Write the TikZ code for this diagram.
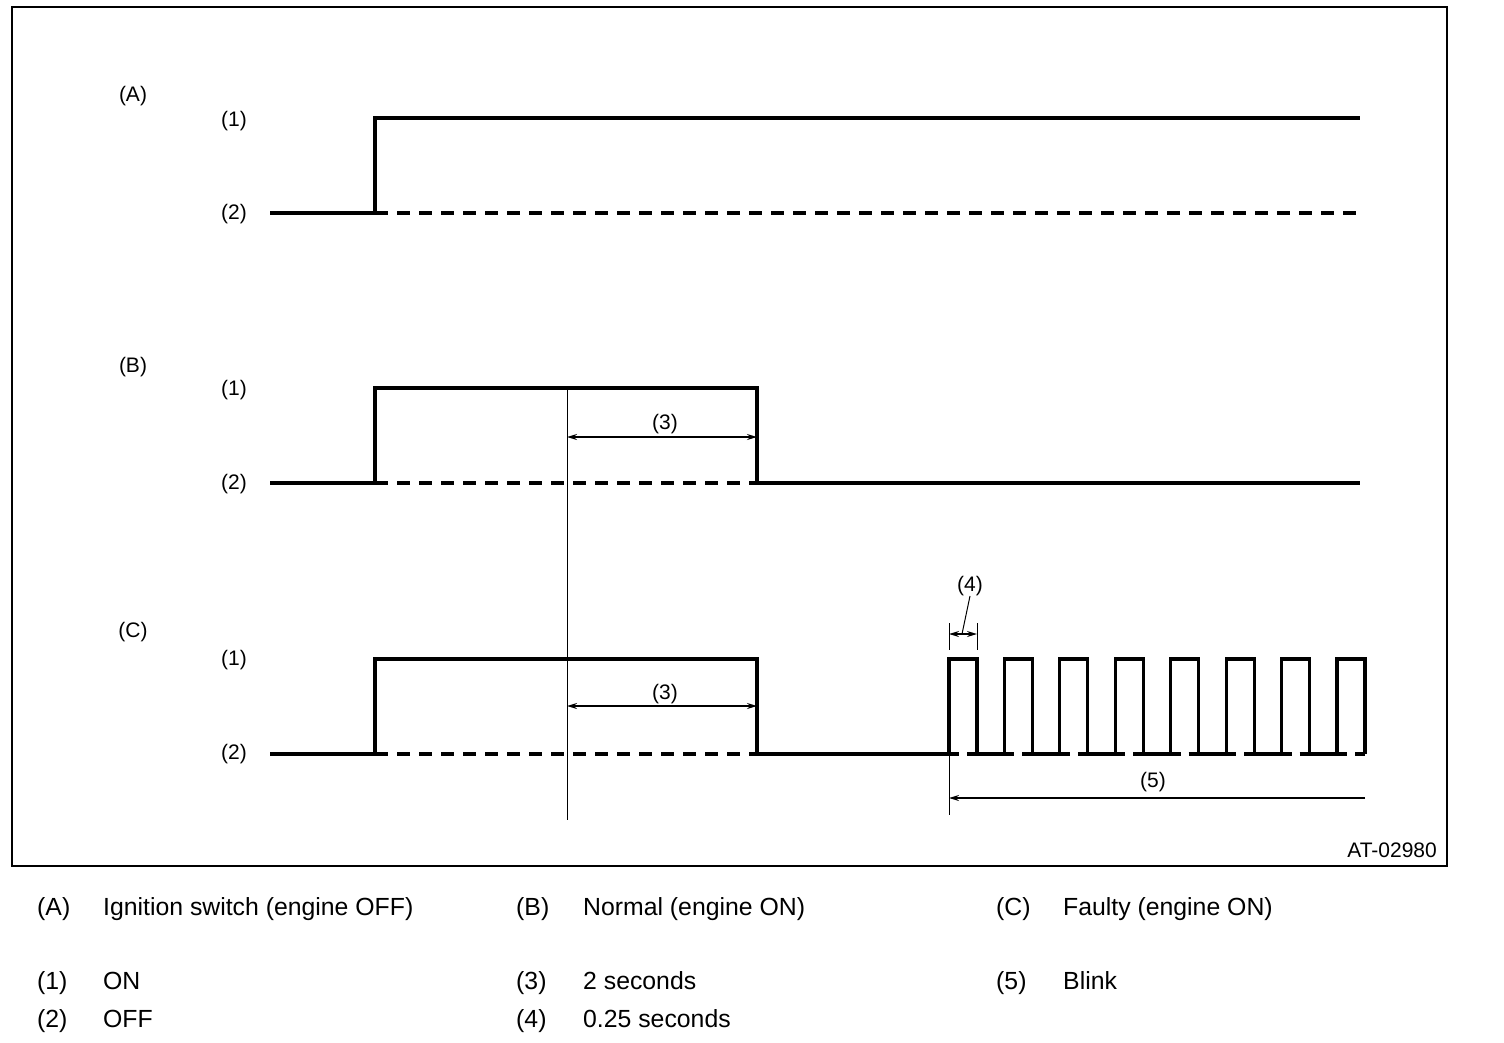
\documentclass[tikz,border=0pt]{standalone}
\usepackage{fontspec}
\setmainfont{Liberation Sans}
\usetikzlibrary{arrows.meta, positioning}

\begin{document}
\begin{tikzpicture}[
    x=1pt, y=-1pt,
    signal/.style={line width=3.2pt, line join=miter},
    offline/.style={line width=3.2pt, dash pattern=on 13pt off 9pt},
    guide/.style={line width=1pt},
    dimarrow/.style={line width=1.4pt, {Stealth[length=10pt,width=6pt]}-{Stealth[length=10pt,width=6pt]}},
    lbl/.style={font=\fontsize{21}{25}\selectfont, inner sep=0pt},
    legend/.style={font=\fontsize{24.8}{29}\selectfont, inner sep=0pt, anchor=base west}
]
    \useasboundingbox (0,0) rectangle (1504,1042);
    \draw[line width=1.8pt] (12,7) rectangle (1447,866);

    % signal labels
    \node[lbl] (labA) at (133,96) {(A)};
    \node[lbl] (onA) at (234,121) {(1)};
    \node[lbl] (offA) at (234,214) {(2)};
    \node[lbl] (labB) at (133,367) {(B)};
    \node[lbl] (onB) at (234,390) {(1)};
    \node[lbl] (offB) at (234,484) {(2)};
    \node[lbl] (labC) at (133,632) {(C)};
    \node[lbl] (onC) at (234,660) {(1)};
    \node[lbl] (offC) at (234,754) {(2)};

    % (A) ignition switch
    \draw[signal] (270,213) -- (375,213) -- (375,118) -- (1360,118);
    \draw[offline] (375,213) -- (1360,213);

    % (B) normal
    \draw[signal] (270,483) -- (375,483) -- (375,388) -- (757,388) -- (757,483) -- (1360,483);
    \draw[offline] (375,483) -- (757,483);

    % (C) faulty
    \draw[signal] (270,754) -- (375,754) -- (375,659) -- (757,659) -- (757,754) -- (949,754);
    \draw[offline] (375,754) -- (757,754);
    \foreach \i in {0,...,7} {
        \pgfmathsetmacro{\px}{949+\i*55.43}
        \draw[signal] (\px,754) -- (\px,659) -- (\px+28,659) -- (\px+28,754);
        \draw[line width=3.2pt, dash pattern=on 10pt off 8pt] (\px,754) -- (\px+28,754);
        \ifnum\i<7
            \draw[signal] (\px+28,754) -- (\px+55.43,754);
        \fi
    }

    % 2 seconds
    \coordinate (tB) at (567,388);
    \coordinate (tC) at (567,820);
    \draw[guide] (tB) -- (tC);
    \coordinate (dB1) at (567,437);
    \coordinate (dB2) at (757,437);
    \draw[dimarrow] (dB1) -- (dB2);
    \node[lbl] (secB) at (665,424) {(3)};
    \coordinate (dC1) at (567,706);
    \coordinate (dC2) at (757,706);
    \draw[dimarrow] (dC1) -- (dC2);
    \node[lbl] (secC) at (665,694) {(3)};

    % 0.25 seconds
    \coordinate (pL) at (949,623);
    \coordinate (pR) at (977,623);
    \draw[guide] (pL) -- ++(0,27);
    \draw[guide] (pR) -- ++(0,27);
    \coordinate (qL) at (949,634);
    \coordinate (qR) at (977,634);
    \draw[dimarrow] (qL) -- (qR);
    \node[lbl] (quart) at (970,586) {(4)};
    \coordinate (qM) at (962,634);
    \draw[guide] (quart.south) -- (qM);

    % blink
    \coordinate (bTop) at (949,754);
    \coordinate (bBot) at (949,815);
    \draw[guide] (bTop) -- (bBot);
    \coordinate (bR) at (1365,798);
    \coordinate (bL) at (949,798);
    \draw[line width=1.4pt, -{Stealth[length=10pt,width=6pt]}] (bR) -- (bL);
    \node[lbl] (blink) at (1153,782) {(5)};

    \node[lbl, anchor=east] (code) at (1437,850) {AT-02980};

    % legend
    \node[legend] (kA) at (37,915) {(A)};
    \node[legend] (tA) at (103,915) {Ignition switch (engine OFF)};
    \node[legend] (kB) at (516,915) {(B)};
    \node[legend] (tB2) at (583,915) {Normal (engine ON)};
    \node[legend] (kC) at (996,915) {(C)};
    \node[legend] (tC2) at (1063,915) {Faulty (engine ON)};
    \node[legend] (k1) at (37,989) {(1)};
    \node[legend] (t1) at (103,989) {ON};
    \node[legend] (k3) at (516,989) {(3)};
    \node[legend] (t3) at (583,989) {2 seconds};
    \node[legend] (k5) at (996,989) {(5)};
    \node[legend] (t5) at (1063,989) {Blink};
    \node[legend] (k2) at (37,1027) {(2)};
    \node[legend] (t2) at (103,1027) {OFF};
    \node[legend] (k4) at (516,1027) {(4)};
    \node[legend] (t4) at (583,1027) {0.25 seconds};
\end{tikzpicture}
\end{document}
